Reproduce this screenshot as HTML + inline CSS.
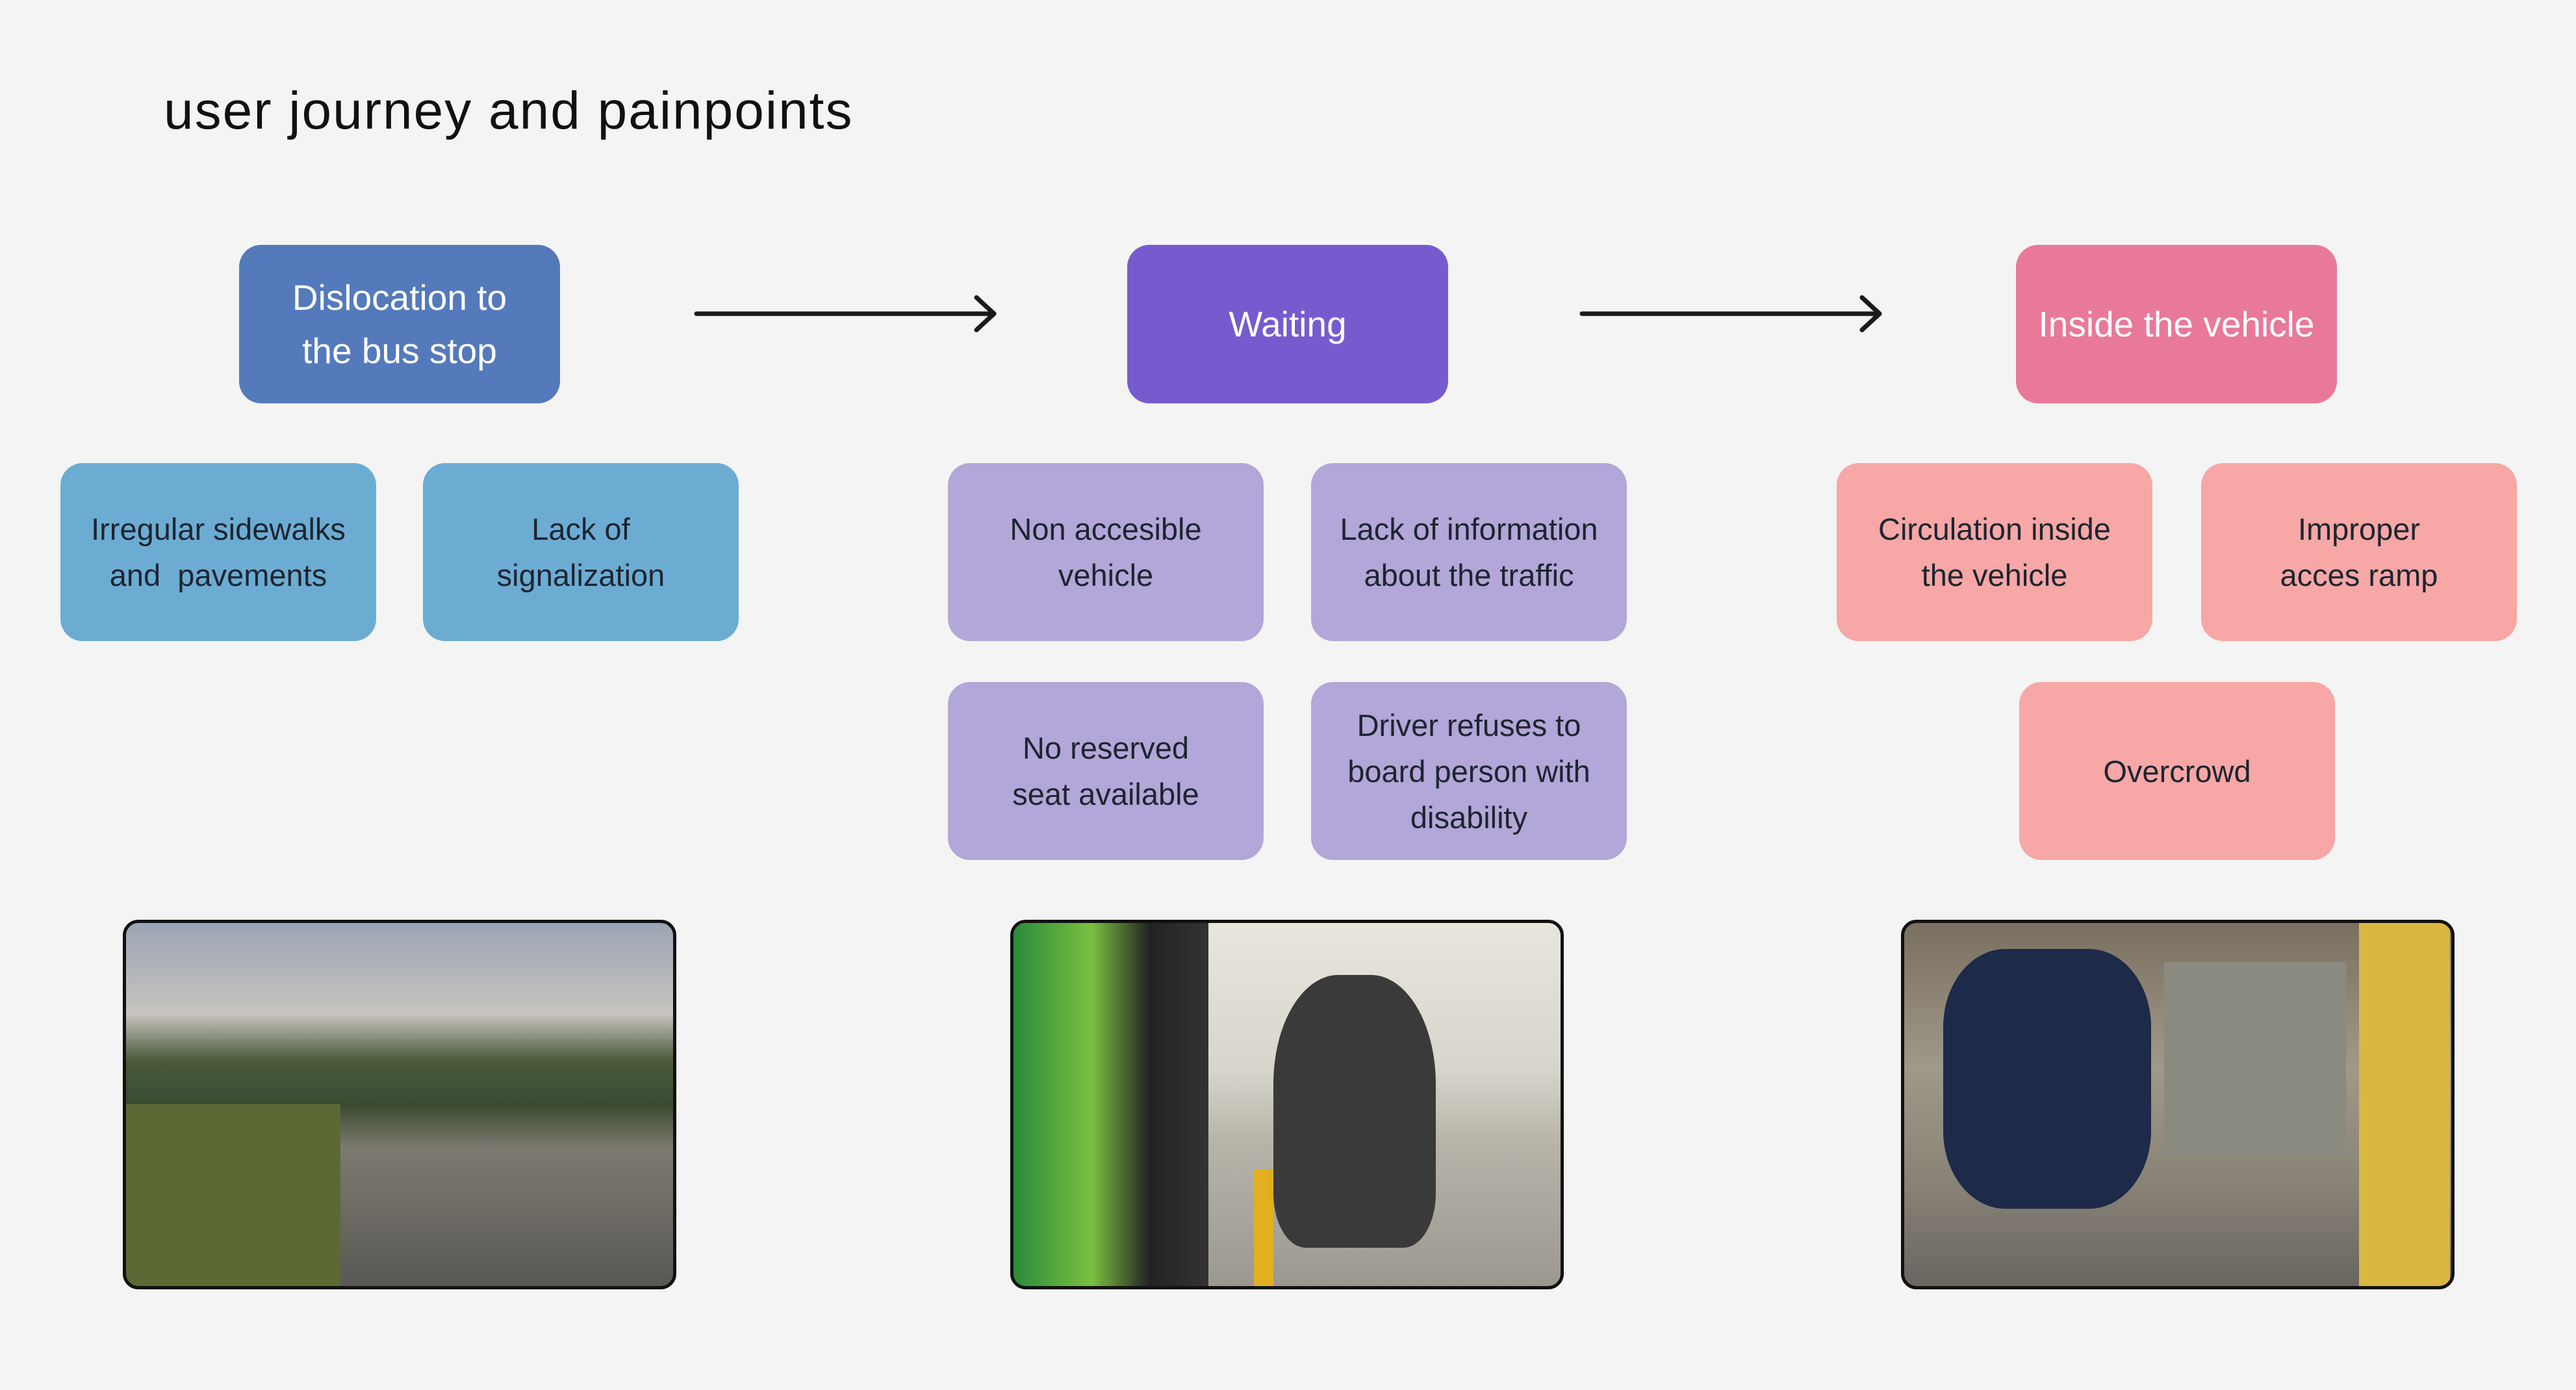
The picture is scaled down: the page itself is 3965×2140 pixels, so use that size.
<!DOCTYPE html>
<html><head><meta charset="utf-8"><style>
html,body{margin:0;padding:0}
body{width:3965px;height:2140px;background:#F4F4F4;position:relative;overflow:hidden;font-family:"Liberation Sans",sans-serif}
.t{position:absolute;left:252px;top:124px;font-size:82px;letter-spacing:2px;color:#111}
.b{position:absolute;display:flex;align-items:center;justify-content:center;text-align:center;border-radius:34px;box-sizing:border-box;line-height:71px}
.h{color:#fff;font-size:55px;line-height:82px;height:244px;width:494px;top:377px}
.s{color:#1d2530;font-size:47px;width:486px;height:274px}
.r2{top:713px}.r3{top:1050px}
.blue{background:#547ABB}.lb{background:#6CACD3}
.pur{background:#765BCF}.lav{background:#B3A6D8}
.pk{background:#E8799A}.lp{background:#F6A7A6}
.p{position:absolute;top:1416px;width:852px;height:569px;border:5px solid #111;border-radius:24px;box-sizing:border-box;overflow:hidden}
</style></head><body>
<div class="t">user journey and painpoints</div>

<div class="b h blue" style="left:368px">Dislocation to<br>the bus stop</div>
<div class="b h pur" style="left:1735px">Waiting</div>
<div class="b h pk" style="left:3103px">Inside the vehicle</div>

<svg style="position:absolute;left:0;top:0" width="3965" height="2140">
<g stroke="#1a1a1a" stroke-width="7" fill="none" stroke-linecap="round" stroke-linejoin="round">
<line x1="1072" y1="483" x2="1530" y2="483"/><polyline points="1503,458 1530,483 1503,508"/>
<line x1="2435" y1="483" x2="2893" y2="483"/><polyline points="2866,458 2893,483 2866,508"/>
</g></svg>

<div class="b s r2 lb" style="left:93px">Irregular sidewalks<br>and&nbsp; pavements</div>
<div class="b s r2 lb" style="left:651px">Lack of<br>signalization</div>
<div class="b s r2 lav" style="left:1459px">Non accesible<br>vehicle</div>
<div class="b s r2 lav" style="left:2018px">Lack of information<br>about the traffic</div>
<div class="b s r2 lp" style="left:2827px">Circulation inside<br>the vehicle</div>
<div class="b s r2 lp" style="left:3388px">Improper<br>acces ramp</div>
<div class="b s r3 lav" style="left:1459px">No reserved<br>seat available</div>
<div class="b s r3 lav" style="left:2018px">Driver refuses to<br>board person with<br>disability</div>
<div class="b s r3 lp" style="left:3108px">Overcrowd</div>

<div class="p" style="left:189px;background:linear-gradient(180deg,#9aa5b3 0%,#c8c4c0 25%,#4a5a3a 38%,#3a4a30 50%,#7c7a70 62%,#5a5854 100%)">
<div style="position:absolute;left:0;bottom:0;width:330px;height:280px;background:#5b6a35"></div>
</div>
<div class="p" style="left:1555px;background:linear-gradient(180deg,#e8e6dc 0%,#d8d6cc 40%,#b8b4aa 60%,#9c9890 100%)">
<div style="position:absolute;left:0;top:0;width:300px;height:100%;background:linear-gradient(90deg,#2a8a3a,#7ac040 40%,#222 70%,#333)"></div>
<div style="position:absolute;left:400px;top:80px;width:250px;height:420px;background:#3a3a3a;border-radius:40% 40% 20% 20%"></div>
<div style="position:absolute;left:370px;top:380px;width:30px;height:180px;background:#e0b020"></div>
</div>
<div class="p" style="left:2926px;background:linear-gradient(180deg,#7a7060 0%,#a09888 40%,#8a8478 70%,#6a6660 100%)">
<div style="position:absolute;left:60px;top:40px;width:320px;height:400px;background:#1d2a4a;border-radius:30%"></div>
<div style="position:absolute;left:700px;top:0;width:140px;height:100%;background:#d8b840"></div>
<div style="position:absolute;left:400px;top:60px;width:280px;height:300px;background:#8a8a80"></div>
</div>
</body></html>
